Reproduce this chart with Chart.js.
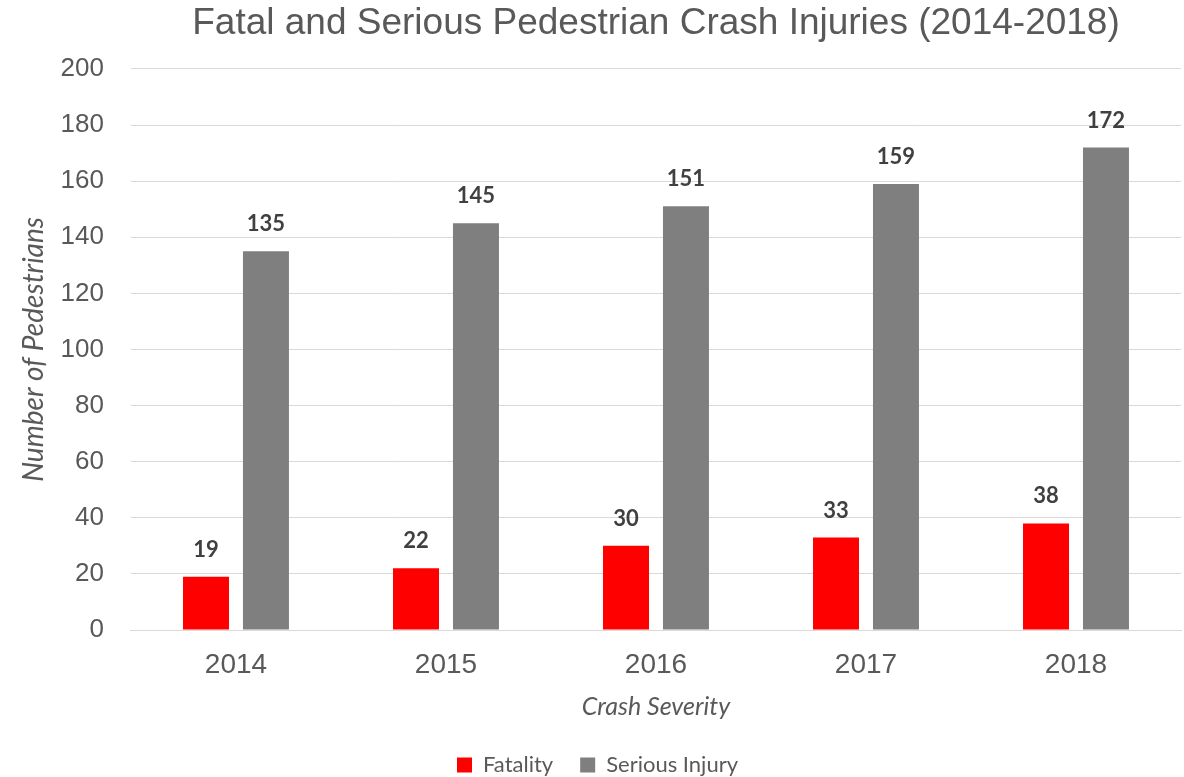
<!DOCTYPE html>
<html>
<head>
<meta charset="utf-8">
<script src="https://cdn.jsdelivr.net/npm/chart.js@4/dist/chart.umd.min.js"></script>
<style>
  html, body { margin: 0; padding: 0; background: #ffffff; }
  #wrap { width: 1184px; height: 777px; position: relative; }
</style>
</head>
<body>
<div id="wrap"><canvas id="c"></canvas></div>
<script>
const categories = ["2014", "2015", "2016", "2017", "2018"];
const fatality = [19, 22, 30, 33, 38];
const seriousInjury = [135, 145, 151, 159, 172];
const seriesNames = ["Fatality", "Serious Injury"];
const yTicks = [0, 20, 40, 60, 80, 100, 120, 140, 160, 180, 200];

const valueLabels = {
  id: 'valueLabels',
  afterDatasetsDraw(chart) {
    const ctx = chart.ctx;
    ctx.save();
    ctx.font = 'bold 22px Lato, "Liberation Sans", sans-serif';
    ctx.fillStyle = '#404040';
    ctx.textAlign = 'center';
    ctx.textBaseline = 'middle';
    chart.data.datasets.forEach((ds, i) => {
      const meta = chart.getDatasetMeta(i);
      meta.data.forEach((bar, j) => {
        ctx.fillText(String(ds.data[j]), bar.x, bar.y - 27);
      });
    });
    ctx.restore();
  }
};

new Chart(document.getElementById('c'), {
  type: 'bar',
  data: {
    labels: categories,
    datasets: [
      { label: seriesNames[0], data: fatality, backgroundColor: '#FF0000', categoryPercentage: 0.571, barPercentage: 0.767 },
      { label: seriesNames[1], data: seriousInjury, backgroundColor: '#7F7F7F', categoryPercentage: 0.571, barPercentage: 0.767 }
    ]
  },
  options: {
    responsive: true,
    maintainAspectRatio: false,
    animation: false,
    layout: { padding: { top: 0, right: 3, left: 14, bottom: -9 } },
    plugins: {
      title: {
        display: true,
        text: 'Fatal and Serious Pedestrian Crash Injuries (2014-2018)',
        color: '#595959',
        fullSize: false,
        font: { family: '"Liberation Sans", Arial, sans-serif', size: 37, weight: 'normal' },
        padding: { top: 2, bottom: 22.5 }
      },
      legend: {
        position: 'bottom',
        labels: {
          color: '#595959',
          font: { family: 'Lato, "Liberation Sans", sans-serif', size: 22 },
          boxWidth: 15,
          boxHeight: 15,
          padding: 27
        }
      },
      tooltip: { enabled: false }
    },
    scales: {
      x: {
        grid: { display: false, drawTicks: false },
        border: { color: '#D9D9D9', width: 1 },
        ticks: {
          color: '#595959',
          font: { family: '"Liberation Sans", Arial, sans-serif', size: 28 },
          padding: 18
        },
        title: {
          display: true,
          text: 'Crash Severity',
          color: '#595959',
          font: { family: 'Lato, "Liberation Sans", sans-serif', size: 25, style: 'italic' },
          padding: { top: -7.6, bottom: 5 }
        }
      },
      y: {
        min: 0,
        max: 200,
        afterBuildTicks(axis) { axis.ticks = yTicks.map(v => ({ value: v })); },
        grid: { color: '#D9D9D9', lineWidth: 1, drawTicks: false },
        border: { display: false },
        ticks: {
          color: '#595959',
          font: { family: '"Liberation Sans", Arial, sans-serif', size: 26 },
          padding: 27
        },
        title: {
          display: true,
          text: 'Number of Pedestrians',
          color: '#595959',
          font: { family: 'Lato, "Liberation Sans", sans-serif', size: 28, style: 'italic' },
          padding: { top: 3, bottom: -17 }
        }
      }
    }
  },
  plugins: [valueLabels]
});
</script>
</body>
</html>
